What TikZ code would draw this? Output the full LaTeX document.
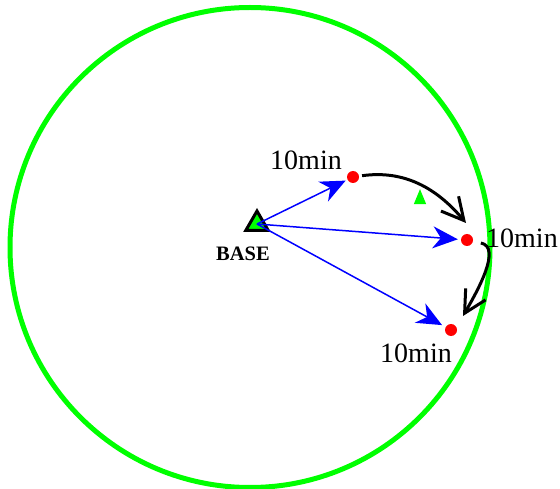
\documentclass[tikz,border=0pt]{standalone}
\usepackage{fontspec}
\setmainfont{Liberation Serif}
\usepackage{tikz}
\usetikzlibrary{shapes.geometric, arrows.meta, positioning}

\begin{document}
\begin{tikzpicture}[x=1pt, y=-1pt,
    dot/.style={circle, fill=red, inner sep=0pt, minimum size=12pt},
    lbl/.style={inner sep=0pt, font=\fontsize{28}{30}\selectfont},
    reach/.style={-{Stealth[length=25pt, width=22pt, inset=8pt]}, blue, line width=1.5pt},
    hop/.style={-{Straight Barb[length=22pt, width=23pt]}, black, line width=3pt}]

    \useasboundingbox (0,0) rectangle (560,489);

    % coverage range
    \draw[green, line width=5pt] (250,247.5) circle [radius=240];

    \node[regular polygon, regular polygon sides=3, draw=black, fill=green, line width=3pt, inner sep=0pt, minimum size=26pt] (base) at (257,224) {};
    \node[font=\bfseries\fontsize{20.5}{22}\selectfont, inner sep=0pt] (baselbl) at (243,254) {BASE};

    \node[dot] (d1) at (353,177) {};
    \node[dot] (d2) at (467,240) {};
    \node[dot] (d3) at (451,330) {};

    \node[isosceles triangle, isosceles triangle apex angle=45, shape border rotate=90, fill=green, inner sep=0pt, minimum height=15pt, minimum width=11pt] (mark) at (420,200) {};

    \node[lbl] (l1) at (306,160) {10min};
    \node[lbl, anchor=west] (l2) at (486,238) {10min};
    \node[lbl] (l3) at (416,353) {10min};

    % arrow tips of the moves
    \coordinate (h1) at (466,223);
    \coordinate (h2) at (463,316);

    \draw[reach, shorten >=2pt] (base.center) -- (d1);
    \draw[reach, shorten >=3pt] (base.center) -- (d2);
    \draw[reach, shorten >=4pt] (base.center) -- (d3);

    \draw[hop, shorten <=3pt] (d1) to[out=8, in=130] (h1);
    \draw[hop, shorten <=8pt] (d2) to[out=-12, in=60] (h2);

\end{tikzpicture}
\end{document}
